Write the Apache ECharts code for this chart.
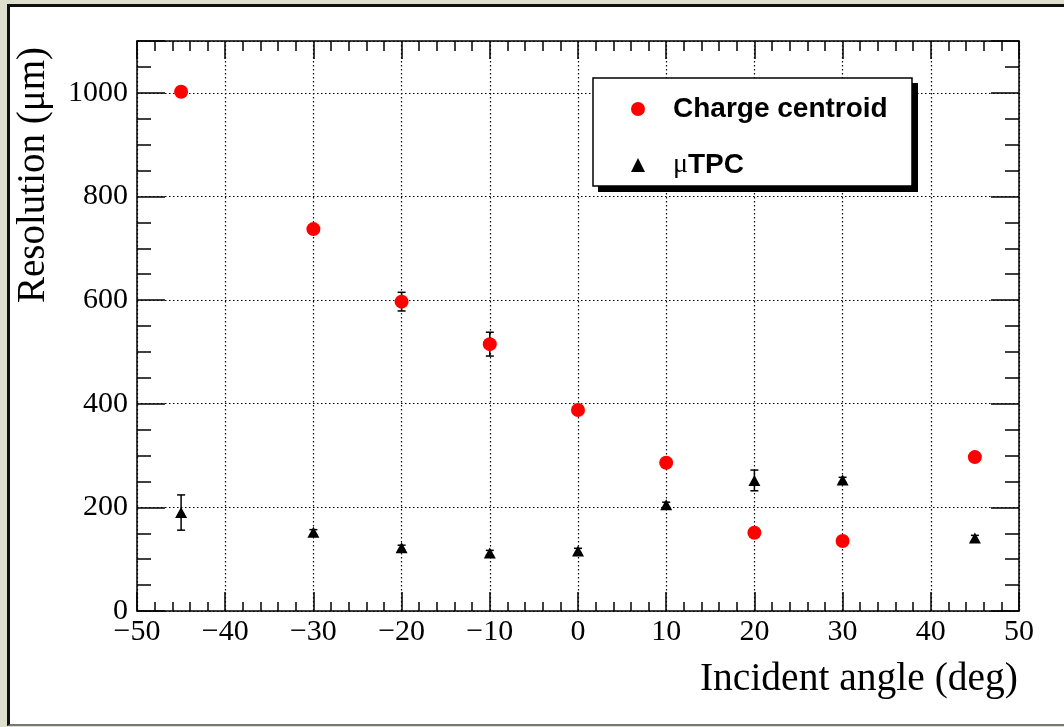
<!DOCTYPE html>
<html>
<head>
<meta charset="utf-8">
<script src="https://cdn.jsdelivr.net/npm/echarts@6/dist/echarts.min.js"></script>
<style>
  html, body { margin: 0; padding: 0; background: #dedfcc; }
  #frame {
    position: absolute; left: 7px; top: 4px; width: 1100px; height: 722px;
    box-sizing: border-box; background: #fff;
    border-top: 3px solid #111; border-left: 3px solid #111; border-bottom: 2px solid #777;
  }
  #main { position: absolute; left: 0; top: 0; width: 1064px; height: 727px; }
</style>
</head>
<body>
<div id="frame"></div>
<div id="main"></div>
<script>
// incident angle (deg)
const angles = [-45, -30, -20, -10, 0, 10, 20, 30, 45];
// resolution (um)
const chargeCentroid = [1002, 737, 597, 515, 388, 286, 151, 135, 297];
const chargeErr = [6, 6, 18, 23, 6, 6, 6, 6, 6];
const uTPC = [190, 152, 122, 112, 116, 205, 252, 253, 141];
const uTPCErr = [34, 5, 5, 5, 5, 5, 20, 5, 5];

const serif = '"Liberation Serif", "DejaVu Serif", serif';
const sans = '"Liberation Sans", Arial, sans-serif';

const chart = echarts.init(document.getElementById('main'), null, { renderer: 'canvas' });

const points = (ys) => angles.map((x, i) => [x, ys[i]]);
const errPoints = (ys, es) => angles.map((x, i) => [x, ys[i], es[i]]);

function errorBar(params, api) {
  const x = api.value(0), y = api.value(1), e = api.value(2);
  const top = api.coord([x, y + e]);
  const bot = api.coord([x, y - e]);
  const style = { stroke: '#000', lineWidth: 1.5 };
  return {
    type: 'group',
    children: [
      { type: 'line', shape: { x1: top[0], y1: top[1], x2: bot[0], y2: bot[1] }, style },
      { type: 'line', shape: { x1: top[0] - 4, y1: top[1], x2: top[0] + 4, y2: top[1] }, style },
      { type: 'line', shape: { x1: bot[0] - 4, y1: bot[1], x2: bot[0] + 4, y2: bot[1] }, style }
    ]
  };
}

const gridLine = { show: true, lineStyle: { color: '#000', width: 1.2, type: [1.5, 2.5] } };
const frameLine = { show: true, onZero: false, lineStyle: { color: '#000', width: 1.5 } };
const hiddenLine = { show: false, onZero: false };

const option = {
  animation: false,
  backgroundColor: 'transparent',
  grid: { left: 137, right: 45, top: 41, bottom: 116 },
  xAxis: [
    {
      type: 'value', min: -50, max: 50, interval: 10,
      axisLine: frameLine,
      axisTick: { inside: true, length: 19, lineStyle: { color: '#000', width: 1.5 } },
      minorTick: { show: true, splitNumber: 5, length: 9, lineStyle: { color: '#000', width: 1.5 } },
      splitLine: gridLine,
      axisLabel: {
        margin: 6, color: '#000', fontFamily: serif, fontSize: 30,
        formatter: (v) => (v < 0 ? '\u2212' + Math.abs(v) : String(v))
      }
    },
    {
      type: 'value', position: 'top', min: -50, max: 50, interval: 10,
      axisLine: frameLine,
      axisTick: { inside: true, length: 18, lineStyle: { color: '#000', width: 1.5 } },
      minorTick: { show: true, splitNumber: 5, length: 10, lineStyle: { color: '#000', width: 1.5 } },
      splitLine: { show: false },
      axisLabel: { show: false }
    }
  ],
  yAxis: [
    {
      type: 'value', min: 0, max: 1100, interval: 200,
      axisLine: frameLine,
      axisTick: { inside: true, length: 28, lineStyle: { color: '#000', width: 1.5 } },
      splitLine: gridLine,
      axisLabel: {
        margin: 9, color: '#000', fontFamily: serif, fontSize: 30,
        formatter: (v) => (v % 200 === 0 ? String(v) : '')
      }
    },
    {
      type: 'value', position: 'left', min: 0, max: 1100, interval: 50,
      axisLine: hiddenLine,
      axisTick: { inside: true, length: 14, lineStyle: { color: '#000', width: 1.5 } },
      splitLine: { show: false },
      axisLabel: { show: false }
    },
    {
      type: 'value', position: 'right', min: 0, max: 1100, interval: 200,
      axisLine: frameLine,
      axisTick: { inside: true, length: 28, lineStyle: { color: '#000', width: 1.5 } },
      splitLine: { show: false },
      axisLabel: { show: false }
    },
    {
      type: 'value', position: 'right', min: 0, max: 1100, interval: 50,
      axisLine: hiddenLine,
      axisTick: { inside: true, length: 14, lineStyle: { color: '#000', width: 1.5 } },
      splitLine: { show: false },
      axisLabel: { show: false }
    }
  ],
  legend: {
    data: ['Charge centroid', '\u03bcTPC'],
    orient: 'vertical',
    left: 626, top: 90,
    itemWidth: 14, itemHeight: 14, itemGap: 28,
    z: 60,
    formatter: (name) => (name === '\u03bcTPC' ? '{mu|\u03bc}TPC' : name),
    textStyle: {
      color: '#000', fontFamily: sans, fontWeight: 'bold', fontSize: 28, lineHeight: 28,
      padding: [0, 0, 0, 23],
      rich: { mu: { fontFamily: serif, fontWeight: 'normal', fontSize: 28, color: '#000' } }
    }
  },
  graphic: [
    { type: 'rect', z: 50, shape: { x: 598, y: 83, width: 320, height: 109 }, style: { fill: '#000' } },
    { type: 'rect', z: 51, shape: { x: 593, y: 78, width: 319, height: 108 }, style: { fill: '#fff', stroke: '#000', lineWidth: 1.5 } },
    {
      type: 'text', x: 34, y: 47, rotation: Math.PI / 2,
      style: { text: 'Resolution (\u03bcm)', font: '39px ' + serif, fill: '#000', align: 'right', verticalAlign: 'middle' }
    },
    {
      type: 'text', x: 1018, y: 680,
      style: { text: 'Incident angle (deg)', font: '39.5px ' + serif, fill: '#000', align: 'right', verticalAlign: 'middle' }
    }
  ],
  series: [
    {
      name: 'ccErr', type: 'custom', renderItem: errorBar, z: 3,
      data: errPoints(chargeCentroid, chargeErr)
    },
    {
      name: 'tpcErr', type: 'custom', renderItem: errorBar, z: 3,
      data: errPoints(uTPC, uTPCErr)
    },
    {
      name: 'Charge centroid', type: 'scatter', z: 5,
      symbol: 'circle', symbolSize: 14,
      itemStyle: { color: '#ff0000', opacity: 1 },
      data: points(chargeCentroid)
    },
    {
      name: '\u03bcTPC', type: 'scatter', z: 5,
      symbol: 'triangle', symbolSize: [12, 11],
      itemStyle: { color: '#000', opacity: 1 },
      data: points(uTPC)
    }
  ]
};

chart.setOption(option);
</script>
</body>
</html>
